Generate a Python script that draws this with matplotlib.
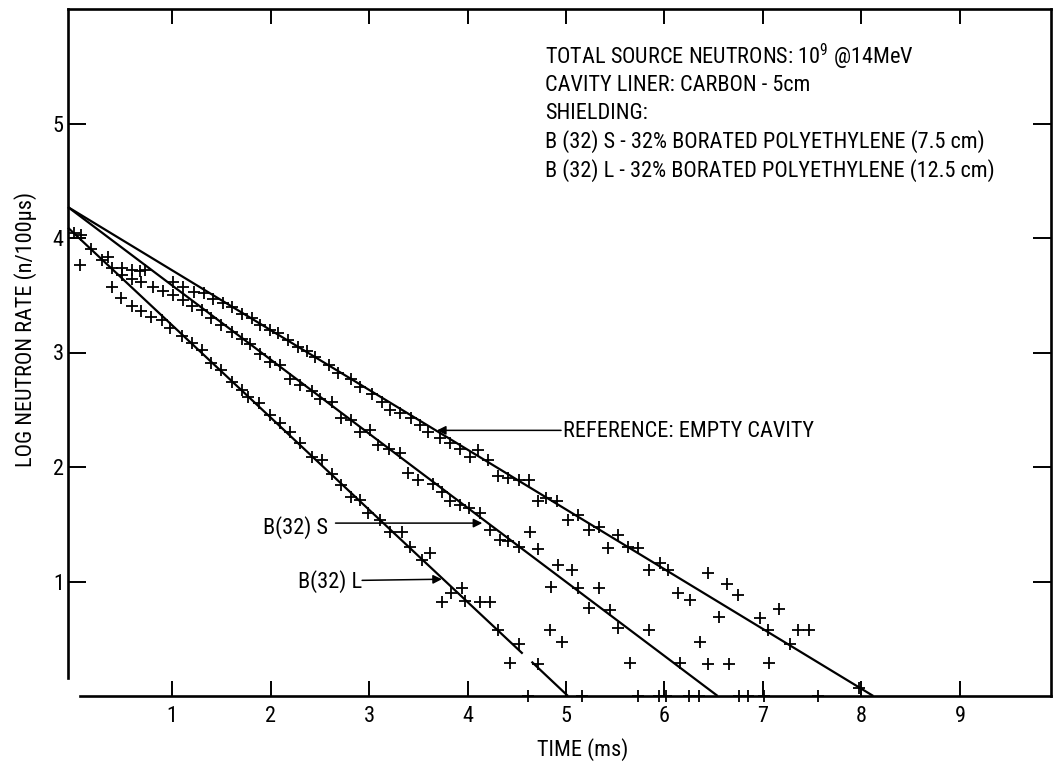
"""Neutron die-away in a carbon-lined cavity: empty reference vs. two
borated-polyethylene shields. Re-plot of the scanned report figure.

Usage:
    python3 plot.py      -> out.png
"""

import matplotlib
matplotlib.use("Agg")
import matplotlib.pyplot as plt
import numpy as np
from matplotlib import font_manager

# --- values (time in ms, log10 of n/100us) ---------------------------------

# reference: empty cavity
REF_T = [0.00, 0.08, 0.18, 0.29, 0.35,
         1.01, 1.11, 1.22, 1.32, 1.42, 1.52, 1.61, 1.71, 1.81, 1.89, 1.99,
         2.08, 2.18, 2.28, 2.37, 2.45, 2.59, 2.69, 2.82, 2.91, 3.03, 3.13,
         3.21, 3.31, 3.43, 3.52, 3.60, 3.72, 3.82, 3.92, 4.03, 4.11, 4.21,
         4.31, 4.41, 4.52, 4.62, 4.72, 4.80, 4.91, 5.02, 5.12, 5.23, 5.33,
         5.43, 5.53, 5.63, 5.73, 5.84, 5.95, 6.04, 6.14, 6.26, 6.44, 6.55,
         6.63, 6.75, 6.97, 7.05, 7.06, 7.16, 7.27, 7.36, 7.47, 7.97,
         6.76, 6.85, 7.01, 7.56]
REF_LOG = [4.04, 4.03, 3.90, 3.81, 3.83,
           3.62, 3.57, 3.53, 3.52, 3.47, 3.43, 3.40, 3.34, 3.30, 3.24, 3.20,
           3.17, 3.11, 3.05, 3.01, 2.96, 2.89, 2.82, 2.77, 2.70, 2.64, 2.57,
           2.50, 2.47, 2.43, 2.37, 2.31, 2.25, 2.21, 2.16, 2.09, 2.15, 2.06,
           1.92, 1.90, 1.89, 1.89, 1.70, 1.73, 1.70, 1.54, 1.58, 1.45, 1.48,
           1.29, 1.41, 1.30, 1.29, 1.10, 1.16, 1.10, 0.90, 0.84, 1.07, 0.69,
           0.98, 0.88, 0.68, 0.58, 0.29, 0.76, 0.45, 0.58, 0.58, 0.07,
           0.00, 0.00, 0.00, 0.00]

# B(32) S : 7.5 cm shield
S_T = [0.39, 0.49, 0.59, 0.68, 0.73,
       0.49, 0.59, 0.69, 0.81, 0.91, 1.01, 1.11, 1.20, 1.30, 1.40, 1.50,
       1.61, 1.71, 1.79, 1.89, 1.99, 2.10, 2.20, 2.30, 2.42, 2.50, 2.62,
       2.72, 2.82, 2.91, 3.01, 3.09, 3.20, 3.31, 3.40, 3.50, 3.65, 3.74,
       3.82, 3.92, 4.02, 4.13, 4.23, 4.33, 4.41, 4.52, 4.63, 4.72,
       4.85, 4.92, 5.06, 5.12, 5.23, 5.33, 5.45, 4.84, 4.96, 5.53, 5.84,
       5.65, 6.16, 6.36, 6.44, 6.65,
       5.73, 5.94, 6.02, 6.25, 6.35]
S_LOG = [3.74, 3.74, 3.72, 3.71, 3.72,
         3.68, 3.64, 3.62, 3.57, 3.54, 3.50, 3.46, 3.41, 3.37, 3.30, 3.24,
         3.18, 3.12, 3.07, 2.99, 2.92, 2.89, 2.77, 2.72, 2.66, 2.59, 2.57,
         2.43, 2.41, 2.31, 2.32, 2.19, 2.16, 2.12, 1.95, 1.89, 1.85, 1.78,
         1.70, 1.67, 1.64, 1.60, 1.45, 1.36, 1.35, 1.30, 1.43, 1.28,
         0.95, 1.14, 1.10, 0.94, 0.77, 0.94, 0.75, 0.58, 0.47, 0.59, 0.58,
         0.29, 0.29, 0.47, 0.28, 0.28,
         0.00, 0.00, 0.00, 0.00, 0.00]

# B(32) L : 12.5 cm shield
L_T = [0.07,
       0.39, 0.48, 0.59, 0.69, 0.79, 0.90, 0.98, 1.10, 1.20, 1.30, 1.40,
       1.50, 1.61, 1.71, 1.77, 1.88, 1.99, 2.10, 2.20, 2.30, 2.42, 2.52,
       2.62, 2.72, 2.82, 2.91, 2.99, 3.11, 3.21, 3.33, 3.42, 3.54, 3.62,
       3.74, 3.83, 3.94, 3.97, 4.13, 4.23, 4.31, 4.43, 4.52, 4.72,
       4.61, 5.16]
L_LOG = [3.76,
         3.57, 3.48, 3.41, 3.36, 3.31, 3.28, 3.21, 3.14, 3.08, 3.02, 2.91,
         2.85, 2.74, 2.67, 2.61, 2.56, 2.45, 2.38, 2.31, 2.21, 2.09, 2.06,
         1.94, 1.84, 1.74, 1.71, 1.60, 1.54, 1.43, 1.43, 1.30, 1.19, 1.25,
         0.82, 0.90, 0.94, 0.83, 0.82, 0.82, 0.58, 0.29, 0.45, 0.28,
         0.00, 0.00]

# hand-drawn fit lines (the L line has a small break near the axis)
REF_FIT_T = [-0.056, 8.12]
REF_FIT_LOG = [4.27, 0.0]
S_FIT_T = [-0.056, 6.54]
S_FIT_LOG = [4.27, 0.0]
L_FIT_T = [-0.056, 4.56, np.nan, 4.65, 5.02]
L_FIT_LOG = [4.09, 0.37, np.nan, 0.30, 0.0]

X_TICKS = [1, 2, 3, 4, 5, 6, 7, 8, 9]
Y_TICKS = [1, 2, 3, 4, 5]

INFO_LINES = [
    "TOTAL SOURCE NEUTRONS: 10$^9$ @14MeV",
    "CAVITY LINER: CARBON - 5cm",
    "SHIELDING:",
    "B (32) S - 32% BORATED POLYETHYLENE (7.5 cm)",
    "B (32) L - 32% BORATED POLYETHYLENE (12.5 cm)",
]
INFO_Y = [5.58, 5.33, 5.09, 4.84, 4.59]

INK = "black"


def _pick_font():
    """The scan uses a narrow lettering face; use a narrow sans if one is
    installed, otherwise DejaVu Sans a bit smaller so line widths still fit.
    Returns (family, stretch, text size, tick size)."""
    entries = font_manager.fontManager.ttflist
    names = {f.name for f in entries}
    for narrow in ("Liberation Sans Narrow", "DejaVu Sans Condensed",
                   "Roboto Condensed", "Open Sans Condensed"):
        if narrow in names:
            return narrow, "normal", 16, 16
    for f in entries:
        if f.name == "DejaVu Sans" and str(f.stretch) in ("condensed", "semi-condensed"):
            return "DejaVu Sans", "condensed", 14.5, 16
    return "DejaVu Sans", "normal", 13, 15


def _arrow(ax, tail, tip):
    ax.annotate("", xy=tip, xytext=tail,
                arrowprops=dict(arrowstyle="-|>", color=INK, lw=1.1,
                                mutation_scale=13, shrinkA=0, shrinkB=0))


def main():
    font, stretch, fs, tfs = _pick_font()
    plt.rcParams["font.family"] = [font, "DejaVu Sans"]
    plt.rcParams["font.stretch"] = stretch
    plt.rcParams["mathtext.fontset"] = "custom"
    plt.rcParams["mathtext.rm"] = font
    plt.rcParams["mathtext.default"] = "regular"

    fig = plt.figure(figsize=(10.53, 7.63), dpi=100)
    ax = fig.add_axes([68 / 1053, 67 / 763, 983 / 1053, 687 / 763])

    # fitted lines
    for t, v in ((REF_FIT_T, REF_FIT_LOG), (S_FIT_T, S_FIT_LOG),
                 (L_FIT_T, L_FIT_LOG)):
        ax.plot(t, v, color=INK, linewidth=1.6, clip_on=False,
                solid_capstyle="butt")

    # measured points
    for t, v in ((REF_T, REF_LOG), (S_T, S_LOG), (L_T, L_LOG)):
        ax.plot(t, v, linestyle="none", marker="+", markersize=9,
                markeredgewidth=1.3, color=INK, clip_on=False)

    ax.set_xlim(-0.056, 9.924)
    ax.set_ylim(0, 6)

    ax.set_xticks(X_TICKS)
    ax.set_yticks(Y_TICKS)
    ax.set_xticklabels([str(v) for v in X_TICKS])
    ax.set_yticklabels([str(v) for v in Y_TICKS])
    ax.tick_params(axis="x", direction="in", length=11, width=1.4,
                   top=True, labelsize=tfs, pad=7)
    ax.tick_params(axis="y", direction="in", length=13, width=1.4,
                   right=True, labelsize=tfs, pad=3)

    for side in ("left", "right", "top", "bottom"):
        ax.spines[side].set_linewidth(1.9)
    ax.spines["left"].set_bounds(0.16, 6)
    ax.spines["bottom"].set_bounds(0.07, 9.924)

    ax.text(-0.0437, 0.533, "LOG NEUTRON RATE (n/100μs)", transform=ax.transAxes,
            rotation=90, ha="center", va="center", fontsize=fs)
    ax.text(5.17, -0.0786, "TIME (ms)", transform=ax.get_xaxis_transform(),
            ha="center", va="center", fontsize=fs)

    for line, y in zip(INFO_LINES, INFO_Y):
        ax.text(4.79, y, line, ha="left", va="center", fontsize=fs)

    # curve call-outs
    ax.text(4.97, 2.31, "REFERENCE: EMPTY CAVITY", ha="left", va="center",
            fontsize=fs)
    _arrow(ax, (4.95, 2.32), (3.69, 2.32))

    ax.text(1.92, 1.47, "B(32) S", ha="left", va="center", fontsize=fs)
    _arrow(ax, (2.66, 1.51), (4.15, 1.51))

    ax.text(2.28, 1.00, "B(32) L", ha="left", va="center", fontsize=fs)
    _arrow(ax, (2.93, 1.01), (3.74, 1.02))

    fig.savefig("out.png", dpi=100)
    plt.close(fig)


if __name__ == "__main__":
    main()
